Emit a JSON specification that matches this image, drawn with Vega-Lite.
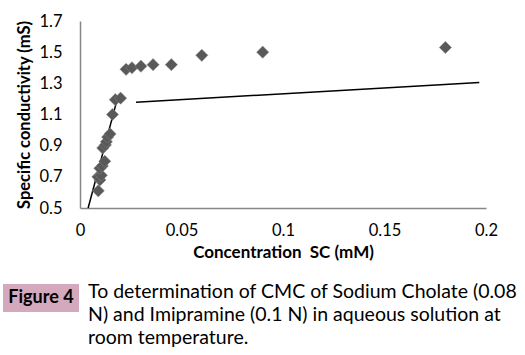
{
  "$schema": "https://vega.github.io/schema/vega-lite/v6.json",
  "width": 406,
  "height": 187,
  "autosize": {"type": "none"},
  "padding": {"left": 80, "top": 21, "right": 39, "bottom": 147},
  "background": "white",
  "config": {"view": {"stroke": null}, "font": "Lato", "axis": {"labelOverlap": false, "labelBound": false}},
  "datasets": {
    "points": [
      {"conc": 0.009, "cond": 0.61},
      {"conc": 0.0098, "cond": 0.68},
      {"conc": 0.0088, "cond": 0.70},
      {"conc": 0.0105, "cond": 0.71},
      {"conc": 0.0098, "cond": 0.755},
      {"conc": 0.011, "cond": 0.77},
      {"conc": 0.0122, "cond": 0.80},
      {"conc": 0.0112, "cond": 0.885},
      {"conc": 0.0125, "cond": 0.905},
      {"conc": 0.013, "cond": 0.925},
      {"conc": 0.0136, "cond": 0.955},
      {"conc": 0.0148, "cond": 0.975},
      {"conc": 0.016, "cond": 1.10},
      {"conc": 0.0174, "cond": 1.195},
      {"conc": 0.020, "cond": 1.205},
      {"conc": 0.0227, "cond": 1.39},
      {"conc": 0.0256, "cond": 1.40},
      {"conc": 0.030, "cond": 1.41},
      {"conc": 0.036, "cond": 1.42},
      {"conc": 0.045, "cond": 1.42},
      {"conc": 0.06, "cond": 1.48},
      {"conc": 0.09, "cond": 1.50},
      {"conc": 0.18, "cond": 1.53}
    ],
    "fits": [
      {"seg": "pre", "conc": 0.004, "cond": 0.5},
      {"seg": "pre", "conc": 0.0184, "cond": 1.2},
      {"seg": "post", "conc": 0.0276, "cond": 1.178},
      {"seg": "post", "conc": 0.1967, "cond": 1.306}
    ],
    "label": [{"text": "Figure 4"}],
    "caption": [{"lines": ["To determination of CMC of Sodium Cholate (0.08", "N) and Imipramine (0.1 N) in aqueous solution at", "room temperature."]}]
  },
  "encoding": {
    "x": {
      "field": "conc", "type": "quantitative",
      "scale": {"domain": [0, 0.2], "nice": false, "zero": false},
      "axis": {
        "values": [0, 0.05, 0.1, 0.15, 0.2],
        "format": "~g",
        "title": "Concentration\u00a0\u00a0SC (mM)",
        "grid": false, "ticks": false, "labelOverlap": false,
        "domainColor": "#868686", "domainWidth": 1.5,
        "labelFont": "Lato", "labelFontSize": 16.5, "labelColor": "#000000",
        "labelPadding": 14, "labelFlush": false,
        "titleFont": "Lato", "titleFontSize": 17, "titleFontWeight": "bold",
        "titleColor": "#000000", "titlePadding": 6
      }
    },
    "y": {
      "field": "cond", "type": "quantitative",
      "scale": {"domain": [0.5, 1.7], "nice": false, "zero": false},
      "axis": {
        "values": [0.5, 0.7, 0.9, 1.1, 1.3, 1.5, 1.7],
        "format": ".1f",
        "title": "Specific conductivity (mS)",
        "grid": false, "ticks": false, "labelOverlap": false,
        "domainColor": "#868686", "domainWidth": 1.5,
        "labelFont": "Lato", "labelFontSize": 16.5, "labelColor": "#000000",
        "labelPadding": 18, "labelFlush": false,
        "titleFont": "Lato", "titleFontSize": 16.5, "titleFontWeight": "bold",
        "titleColor": "#000000", "titlePadding": 6
      }
    }
  },
  "layer": [
    {
      "data": {"name": "fits"},
      "mark": {"type": "line", "color": "#000000", "strokeWidth": 1.5},
      "encoding": {
        "detail": {"field": "seg", "type": "nominal"}
      }
    },
    {
      "data": {"name": "points"},
      "mark": {"type": "point", "shape": "diamond", "filled": true, "color": "#595959", "opacity": 1, "size": 150, "stroke": "#8a8a8a", "strokeWidth": 0.5}
    },
    {
      "data": {"name": "label"},
      "mark": {"type": "rect", "color": "#d4a8bd"},
      "encoding": {
        "x": {"value": -77},
        "x2": {"value": -1},
        "y": {"value": 263},
        "y2": {"value": 291}
      }
    },
    {
      "data": {"name": "label"},
      "mark": {"type": "text", "font": "Lato", "fontSize": 18, "fontWeight": "bold", "color": "#000000", "align": "center", "baseline": "middle"},
      "encoding": {
        "text": {"field": "text"},
        "x": {"value": -39},
        "y": {"value": 277}
      }
    },
    {
      "data": {"name": "caption"},
      "mark": {"type": "text", "font": "Lato", "fontSize": 19.5, "color": "#000000", "align": "left", "baseline": "top", "lineHeight": 23},
      "encoding": {
        "text": {"field": "lines"},
        "x": {"value": 8},
        "y": {"value": 262}
      }
    }
  ]
}
